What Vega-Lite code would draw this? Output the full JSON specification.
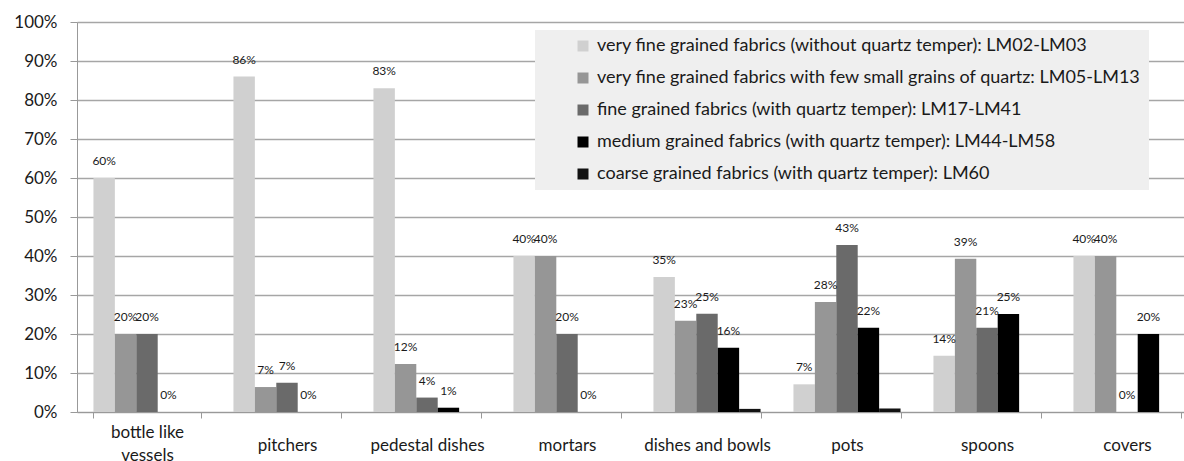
{
  "$schema": "https://vega.github.io/schema/vega-lite/v6.json",
  "width": 1107,
  "height": 390,
  "autosize": {"type": "none"},
  "padding": {"left": 77, "top": 22, "right": 0, "bottom": 49},
  "background": "white",
  "config": {
    "font": "Lato",
    "view": {"stroke": null}
  },
  "data": {
    "values": [
      {"category": "bottle like vessels", "series": "very fine grained fabrics (without quartz temper): LM02-LM03", "value": 60, "label": "60%"},
      {"category": "bottle like vessels", "series": "very fine grained fabrics with few small grains of quartz: LM05-LM13", "value": 20, "label": "20%"},
      {"category": "bottle like vessels", "series": "fine grained fabrics (with quartz temper): LM17-LM41", "value": 20, "label": "20%"},
      {"category": "bottle like vessels", "series": "medium grained fabrics (with quartz temper): LM44-LM58", "value": 0, "label": "0%"},
      {"category": "pitchers", "series": "very fine grained fabrics (without quartz temper): LM02-LM03", "value": 86, "label": "86%"},
      {"category": "pitchers", "series": "very fine grained fabrics with few small grains of quartz: LM05-LM13", "value": 6.4, "label": "7%"},
      {"category": "pitchers", "series": "fine grained fabrics (with quartz temper): LM17-LM41", "value": 7.5, "label": "7%"},
      {"category": "pitchers", "series": "medium grained fabrics (with quartz temper): LM44-LM58", "value": 0, "label": "0%"},
      {"category": "pedestal dishes", "series": "very fine grained fabrics (without quartz temper): LM02-LM03", "value": 83, "label": "83%"},
      {"category": "pedestal dishes", "series": "very fine grained fabrics with few small grains of quartz: LM05-LM13", "value": 12.3, "label": "12%"},
      {"category": "pedestal dishes", "series": "fine grained fabrics (with quartz temper): LM17-LM41", "value": 3.7, "label": "4%"},
      {"category": "pedestal dishes", "series": "medium grained fabrics (with quartz temper): LM44-LM58", "value": 1.1, "label": "1%"},
      {"category": "mortars", "series": "very fine grained fabrics (without quartz temper): LM02-LM03", "value": 40, "label": "40%"},
      {"category": "mortars", "series": "very fine grained fabrics with few small grains of quartz: LM05-LM13", "value": 40, "label": "40%"},
      {"category": "mortars", "series": "fine grained fabrics (with quartz temper): LM17-LM41", "value": 20, "label": "20%"},
      {"category": "mortars", "series": "medium grained fabrics (with quartz temper): LM44-LM58", "value": 0, "label": "0%"},
      {"category": "dishes and bowls", "series": "very fine grained fabrics (without quartz temper): LM02-LM03", "value": 34.6, "label": "35%"},
      {"category": "dishes and bowls", "series": "very fine grained fabrics with few small grains of quartz: LM05-LM13", "value": 23.4, "label": "23%"},
      {"category": "dishes and bowls", "series": "fine grained fabrics (with quartz temper): LM17-LM41", "value": 25.2, "label": "25%"},
      {"category": "dishes and bowls", "series": "medium grained fabrics (with quartz temper): LM44-LM58", "value": 16.5, "label": "16%"},
      {"category": "dishes and bowls", "series": "coarse grained fabrics (with quartz temper): LM60", "value": 0.8, "label": null},
      {"category": "pots", "series": "very fine grained fabrics (without quartz temper): LM02-LM03", "value": 7.1, "label": "7%"},
      {"category": "pots", "series": "very fine grained fabrics with few small grains of quartz: LM05-LM13", "value": 28.2, "label": "28%"},
      {"category": "pots", "series": "fine grained fabrics (with quartz temper): LM17-LM41", "value": 42.8, "label": "43%"},
      {"category": "pots", "series": "medium grained fabrics (with quartz temper): LM44-LM58", "value": 21.6, "label": "22%"},
      {"category": "pots", "series": "coarse grained fabrics (with quartz temper): LM60", "value": 0.9, "label": null},
      {"category": "spoons", "series": "very fine grained fabrics (without quartz temper): LM02-LM03", "value": 14.4, "label": "14%"},
      {"category": "spoons", "series": "very fine grained fabrics with few small grains of quartz: LM05-LM13", "value": 39.3, "label": "39%"},
      {"category": "spoons", "series": "fine grained fabrics (with quartz temper): LM17-LM41", "value": 21.6, "label": "21%"},
      {"category": "spoons", "series": "medium grained fabrics (with quartz temper): LM44-LM58", "value": 25.1, "label": "25%"},
      {"category": "covers", "series": "very fine grained fabrics (without quartz temper): LM02-LM03", "value": 40, "label": "40%"},
      {"category": "covers", "series": "very fine grained fabrics with few small grains of quartz: LM05-LM13", "value": 40, "label": "40%"},
      {"category": "covers", "series": "fine grained fabrics (with quartz temper): LM17-LM41", "value": 0, "label": "0%"},
      {"category": "covers", "series": "medium grained fabrics (with quartz temper): LM44-LM58", "value": 20, "label": "20%"}
    ]
  },
  "encoding": {
    "x": {
      "field": "category",
      "type": "nominal",
      "sort": ["bottle like vessels", "pitchers", "pedestal dishes", "mortars", "dishes and bowls", "pots", "spoons", "covers"],
      "scale": {"range": [0, 1120], "paddingInner": 0.235, "paddingOuter": 0.1175},
      "axis": {
        "title": null,
        "labelAngle": 0,
        "labelFontSize": 17,
        "labelColor": "#1a1a1a",
        "labelBaseline": "middle",
        "labelPadding": {"condition": {"test": "datum.label == 'bottle like vessels'", "value": 14}, "value": 27},
        "labelLineHeight": 23,
        "labelExpr": "datum.label == 'bottle like vessels' ? ['bottle like', 'vessels'] : datum.label",
        "tickBand": "extent",
        "tickSize": 6,
        "tickColor": "#999999",
        "domainColor": "#999999",
        "grid": false
      }
    },
    "xOffset": {
      "field": "series",
      "type": "nominal",
      "scale": {
        "domain": [
          "very fine grained fabrics (without quartz temper): LM02-LM03",
          "very fine grained fabrics with few small grains of quartz: LM05-LM13",
          "fine grained fabrics (with quartz temper): LM17-LM41",
          "medium grained fabrics (with quartz temper): LM44-LM58",
          "coarse grained fabrics (with quartz temper): LM60"
        ],
        "paddingInner": 0,
        "paddingOuter": 0
      }
    },
    "y": {
      "field": "value",
      "type": "quantitative",
      "scale": {"domain": [0, 100], "nice": false},
      "axis": {
        "title": null,
        "values": [0, 10, 20, 30, 40, 50, 60, 70, 80, 90, 100],
        "labelExpr": "datum.value + '%'",
        "labelFontSize": 17,
        "labelColor": "#1a1a1a",
        "labelPadding": 13,
        "tickSize": 7,
        "tickColor": "#999999",
        "domainColor": "#999999",
        "gridColor": "#a6a6a6",
        "gridWidth": 1.5
      }
    }
  },
  "layer": [
    {
      "mark": {"type": "bar"},
      "encoding": {
        "color": {
          "field": "series",
          "type": "nominal",
          "scale": {
            "domain": [
              "very fine grained fabrics (without quartz temper): LM02-LM03",
              "very fine grained fabrics with few small grains of quartz: LM05-LM13",
              "fine grained fabrics (with quartz temper): LM17-LM41",
              "medium grained fabrics (with quartz temper): LM44-LM58",
              "coarse grained fabrics (with quartz temper): LM60"
            ],
            "range": ["#d0d0d0", "#969696", "#6a6a6a", "#000000", "#121212"]
          },
          "legend": {
            "title": "\u00a0",
            "titleOrient": "left",
            "titlePadding": 32,
            "titleFontSize": 18,
            "orient": "none",
            "legendX": 458,
            "legendY": 8,
            "fillColor": "#efefef",
            "padding": 7,
            "labelFontSize": 18,
            "labelColor": "#1a1a1a",
            "labelLimit": 800,
            "labelOffset": 5,
            "symbolType": "square",
            "symbolSize": 121,
            "symbolStrokeWidth": 0,
            "symbolOpacity": 1,
            "rowPadding": 14
          }
        }
      }
    },
    {
      "transform": [{"filter": "datum.label != null"}],
      "mark": {"type": "text", "baseline": "bottom", "dy": -10, "fontSize": 12, "color": "#1a1a1a"},
      "encoding": {
        "text": {"field": "label", "type": "nominal"}
      }
    }
  ]
}
